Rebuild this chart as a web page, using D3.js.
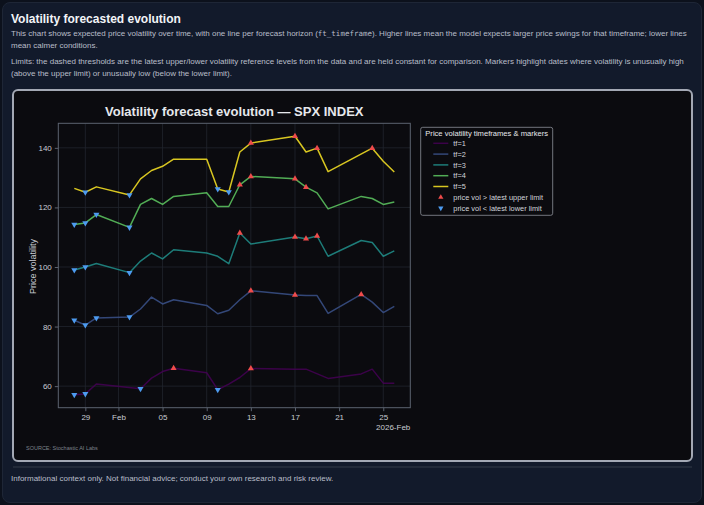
<!DOCTYPE html>
<html>
<head>
<meta charset="utf-8">
<script src="https://cdn.jsdelivr.net/npm/d3@7"></script>
<style>
  html, body { margin: 0; padding: 0; }
  body { width: 704px; height: 505px; background: #0c111c; font-family: "Liberation Sans", Arial, sans-serif; position: relative; overflow: hidden; }
  .card { position: absolute; left: 2px; top: 2px; width: 698px; height: 499px; background: #121a2b; border: 1px solid #1e2636; border-radius: 8px; }
  .head { position: absolute; left: 11px; top: 12px; color: #f2f4f8; font-size: 12px; font-weight: bold; white-space: nowrap; }
  .txt { position: absolute; left: 11px; color: #b9bec9; font-size: 8px; white-space: nowrap; }
  .txt code { font-family: "DejaVu Sans Mono", monospace; font-size: 7.5px; }
  .frame { position: absolute; left: 12px; top: 89px; width: 677px; height: 369px; background: #0b0b0f; border: 2px solid #a3a8b4; border-radius: 6px; }
  .sep { position: absolute; left: 13px; top: 466px; width: 679px; height: 2px; background: #222a39; }
  svg { position: absolute; left: 0; top: 0; }
</style>
</head>
<body>
<div class="card"></div>
<div class="head">Volatility forecasted evolution</div>
<div class="txt" style="top:29px">This chart shows expected price volatility over time, with one line per forecast horizon (<code>ft_timeframe</code>). Higher lines mean the model expects larger price swings for that timeframe; lower lines</div>
<div class="txt" style="top:41px">mean calmer conditions.</div>
<div class="txt" style="top:57px">Limits: the dashed thresholds are the latest upper/lower volatility reference levels from the data and are held constant for comparison. Markers highlight dates where volatility is unusually high</div>
<div class="txt" style="top:69px">(above the upper limit) or unusually low (below the lower limit).</div>
<div class="frame"></div>
<div class="sep"></div>
<div class="txt" style="top:474px">Informational context only. Not financial advice; conduct your own research and risk review.</div>
<svg id="chart" width="704" height="505"></svg>
<script>
// ---- data ----
const tfNames = ['tf=1', 'tf=2', 'tf=3', 'tf=4', 'tf=5'];
const tfColors = ['#440154', '#3b528b', '#21918c', '#5ec962', '#fde725'];

const tf1Dates = ['2026-01-28','2026-01-29','2026-01-30','2026-02-03','2026-02-04','2026-02-05','2026-02-06','2026-02-09','2026-02-10','2026-02-11','2026-02-12','2026-02-13','2026-02-17','2026-02-18','2026-02-20','2026-02-23','2026-02-24','2026-02-25','2026-02-26'];
const tf1Values = [57.1, 57.4, 60.7, 59.1, 62.7, 64.9, 66.0, 64.5, 58.8, 60.7, 62.9, 65.9, 65.7, 65.7, 62.6, 64.1, 65.7, 61.0, 61.0];

const tf2Dates = ['2026-01-28','2026-01-29','2026-01-30','2026-02-02','2026-02-03','2026-02-04','2026-02-05','2026-02-06','2026-02-09','2026-02-10','2026-02-11','2026-02-12','2026-02-13','2026-02-17','2026-02-18','2026-02-19','2026-02-20','2026-02-23','2026-02-24','2026-02-25','2026-02-26'];
const tf2Values = [82.1, 80.5, 82.9, 83.2, 85.9, 89.9, 87.6, 89.0, 87.1, 84.3, 85.5, 89.0, 92.0, 90.6, 90.4, 90.4, 84.4, 90.8, 88.2, 84.7, 86.8];

const tf3Dates = tf2Dates;
const tf3Values = [99.0, 100.0, 101.2, 98.1, 102.0, 104.7, 102.7, 105.8, 104.7, 103.6, 101.1, 111.4, 107.7, 110.1, 109.5, 110.4, 103.6, 108.9, 108.2, 103.6, 105.4];

const tf4Dates = tf2Dates;
const tf4Values = [114.3, 114.8, 117.6, 113.3, 121.0, 123.0, 121.0, 123.7, 124.9, 120.3, 120.3, 127.6, 130.4, 129.6, 126.8, 124.9, 119.5, 123.7, 123.0, 121.0, 121.8];

const tf5Dates = ['2026-01-28','2026-01-29','2026-01-30','2026-02-02','2026-02-03','2026-02-04','2026-02-05','2026-02-06','2026-02-09','2026-02-10','2026-02-11','2026-02-12','2026-02-13','2026-02-17','2026-02-18','2026-02-19','2026-02-20','2026-02-24','2026-02-25','2026-02-26'];
const tf5Values = [126.4, 125.1, 126.9, 124.2, 129.6, 132.4, 133.8, 136.2, 136.2, 126.2, 125.2, 138.6, 141.6, 143.9, 138.6, 139.9, 132.0, 139.9, 135.5, 131.9];

// dates flagged above upper limit / below lower limit
const upDates = [
  ['2026-02-06','2026-02-13'],
  ['2026-02-13','2026-02-17','2026-02-23'],
  ['2026-02-12','2026-02-17','2026-02-18','2026-02-19'],
  ['2026-02-12','2026-02-13','2026-02-17','2026-02-18'],
  ['2026-02-13','2026-02-17','2026-02-19','2026-02-24']
];
const downDates = [
  ['2026-01-28','2026-01-29','2026-02-03','2026-02-10'],
  ['2026-01-28','2026-01-29','2026-01-30','2026-02-02'],
  ['2026-01-28','2026-01-29','2026-02-02'],
  ['2026-01-28','2026-01-29','2026-01-30','2026-02-02'],
  ['2026-01-29','2026-02-02','2026-02-10','2026-02-11']
];

const yTicks = [60, 80, 100, 120, 140];
const xTickDates = ['2026-01-29','2026-02-01','2026-02-05','2026-02-09','2026-02-13','2026-02-17','2026-02-21','2026-02-25'];
const xTickLabels = ['29', 'Feb', '05', '09', '13', '17', '21', '25'];

// ---- drawing ----
const parse = d3.timeParse('%Y-%m-%d');
const allDates = [tf1Dates, tf2Dates, tf3Dates, tf4Dates, tf5Dates];
const allValues = [tf1Values, tf2Values, tf3Values, tf4Values, tf5Values];

const series = tfNames.map((name, k) => ({
  name: name,
  color: tfColors[k],
  points: allDates[k].map((d, i) => ({ date: parse(d), key: d, value: allValues[k][i] }))
}));

const svg = d3.select('#chart');
const plot = { left: 58.3, right: 410.3, top: 123.3, bottom: 407.7 };
const font = '"Liberation Sans", Arial, sans-serif';

const tExt = d3.extent(series.flatMap(s => s.points), p => p.date);
const tPad = (tExt[1] - tExt[0]) * 0.05;
const x = d3.scaleTime()
  .domain([new Date(+tExt[0] - tPad), new Date(+tExt[1] + tPad)])
  .range([plot.left, plot.right]);

const vExt = d3.extent(series.flatMap(s => s.points), p => p.value);
const vPad = (vExt[1] - vExt[0]) * 0.05;
const y = d3.scaleLinear()
  .domain([vExt[0] - vPad, vExt[1] + vPad])
  .range([plot.bottom, plot.top]);

// grid
const grid = svg.append('g').attr('stroke', '#22262e').attr('stroke-width', 0.8);
grid.selectAll('.gx').data(xTickDates).enter().append('line')
  .attr('x1', d => x(parse(d))).attr('x2', d => x(parse(d)))
  .attr('y1', plot.top).attr('y2', plot.bottom);
grid.selectAll('.gy').data(yTicks).enter().append('line')
  .attr('x1', plot.left).attr('x2', plot.right)
  .attr('y1', d => y(d)).attr('y2', d => y(d));

// axes
const xAxis = d3.axisBottom(x)
  .tickValues(xTickDates.map(parse))
  .tickFormat((d, i) => xTickLabels[i])
  .tickSize(3.5).tickPadding(3);
const yAxis = d3.axisLeft(y).tickValues(yTicks).tickSize(3.5).tickPadding(3);

const gx = svg.append('g').attr('transform', `translate(0,${plot.bottom})`).call(xAxis);
const gy = svg.append('g').attr('transform', `translate(${plot.left},0)`).call(yAxis);
[gx, gy].forEach(g => {
  g.select('.domain').remove();
  g.selectAll('line').attr('stroke', '#5c6370');
  g.selectAll('text').attr('fill', '#c9ccd3').attr('font-size', 8).attr('font-family', font);
});

svg.append('rect')
  .attr('x', plot.left).attr('y', plot.top)
  .attr('width', plot.right - plot.left).attr('height', plot.bottom - plot.top)
  .attr('fill', 'none').attr('stroke', '#5c6370').attr('stroke-width', 1);

svg.append('text')
  .attr('x', plot.right).attr('y', 430)
  .attr('text-anchor', 'end').attr('fill', '#c9ccd3')
  .attr('font-size', 8).attr('font-family', font)
  .text('2026-Feb');

svg.append('text')
  .attr('transform', `translate(35.5,266.5) rotate(-90)`)
  .attr('text-anchor', 'middle').attr('fill', '#c9ccd3')
  .attr('font-size', 9).attr('font-family', font)
  .text('Price volatility');

svg.append('text')
  .attr('x', (plot.left + plot.right) / 2).attr('y', 115.5)
  .attr('text-anchor', 'middle').attr('fill', '#e6e8ec')
  .attr('font-size', 13).attr('font-weight', 'bold').attr('font-family', font)
  .text('Volatility forecast evolution — SPX INDEX');

svg.append('text')
  .attr('x', 26).attr('y', 450)
  .attr('fill', '#7d828c').attr('font-size', 5.5).attr('font-family', font)
  .text('SOURCE: Stochastic AI Labs');

// lines
const line = d3.line().x(p => x(p.date)).y(p => y(p.value));
svg.append('g').selectAll('path').data(series).enter().append('path')
  .attr('d', s => line(s.points))
  .attr('fill', 'none')
  .attr('stroke', s => s.color)
  .attr('stroke-opacity', 0.85)
  .attr('stroke-width', 1.5)
  .attr('stroke-linejoin', 'round');

// markers
const tri = d3.symbol().type(d3.symbolTriangle).size(16);
const upColor = '#ef4b4b', downColor = '#4d9bf0';
const marks = svg.append('g');
series.forEach((s, k) => {
  s.points.filter(p => upDates[k].includes(p.key)).forEach(p => {
    marks.append('path').attr('d', tri)
      .attr('transform', `translate(${x(p.date)},${y(p.value)})`)
      .attr('fill', upColor);
  });
  s.points.filter(p => downDates[k].includes(p.key)).forEach(p => {
    marks.append('path').attr('d', tri)
      .attr('transform', `translate(${x(p.date)},${y(p.value)}) rotate(180)`)
      .attr('fill', downColor);
  });
});

// legend
const lg = svg.append('g');
lg.append('rect')
  .attr('x', 420.7).attr('y', 127.3).attr('width', 132).attr('height', 88)
  .attr('rx', 2).attr('fill', '#0b0b0f').attr('stroke', '#8e929a').attr('stroke-width', 0.8);
lg.append('text')
  .attr('x', 486.7).attr('y', 136)
  .attr('text-anchor', 'middle').attr('fill', '#e6e8ec')
  .attr('font-size', 7.6).attr('font-family', font)
  .text('Price volatility timeframes & markers');

const legendItems = series.map(s => ({ label: s.name, kind: 'line', color: s.color }))
  .concat([
    { label: 'price vol > latest upper limit', kind: 'up', color: upColor },
    { label: 'price vol < latest lower limit', kind: 'down', color: downColor }
  ]);
legendItems.forEach((it, i) => {
  const cy = 143.3 + i * 10.8;
  if (it.kind === 'line') {
    lg.append('line')
      .attr('x1', 433.3).attr('x2', 448.3).attr('y1', cy).attr('y2', cy)
      .attr('stroke', it.color).attr('stroke-opacity', 0.85).attr('stroke-width', 1.5);
  } else {
    lg.append('path').attr('d', d3.symbol().type(d3.symbolTriangle).size(12))
      .attr('transform', `translate(440.8,${cy})` + (it.kind === 'down' ? ' rotate(180)' : ''))
      .attr('fill', it.color);
  }
  lg.append('text')
    .attr('x', 453.3).attr('y', cy + 2.6)
    .attr('fill', '#d2d5db').attr('font-size', 7.4).attr('font-family', font)
    .text(it.label);
});
</script>
</body>
</html>
